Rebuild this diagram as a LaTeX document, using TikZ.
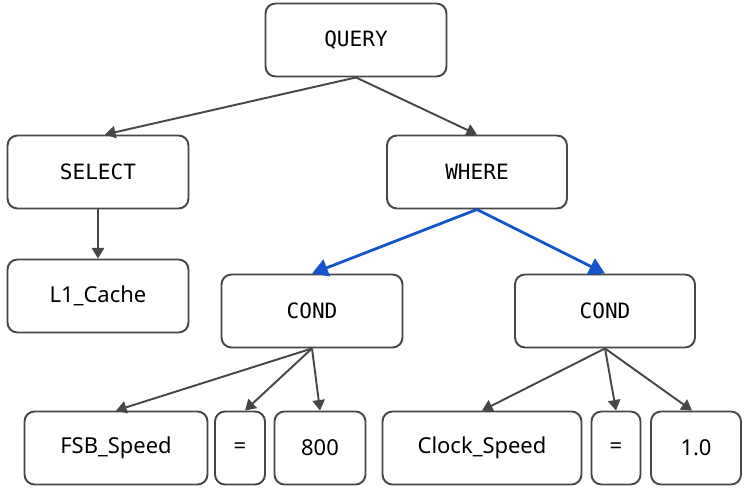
\documentclass[tikz,border=0pt]{standalone}
\usepackage{fontspec}
\setmainfont{Noto Sans}
\setmonofont{DejaVu Sans Mono}
\usetikzlibrary{arrows.meta}
\begin{document}
\begin{tikzpicture}[x=0.02cm,y=-0.02cm,
  box/.style={draw=black!72,line width=1.1pt,rounded corners=0.2cm,fill=white,minimum height=1.46cm,inner sep=0pt,font=\fontsize{12.5}{15}\selectfont},
  mono/.style={box,font=\ttfamily\fontsize{12}{15}\selectfont},
  edge/.style={draw=black!72,line width=1.1pt,-{Triangle[length=6pt,width=7pt]}},
  bedge/.style={draw={rgb,255:red,20;green,85;blue,205},line width=1.6pt,-{Triangle[length=9pt,width=10pt]}}]
\useasboundingbox (0,0) rectangle (747,489);
\node[mono,minimum width=3.62cm] (q) at (356,40) {QUERY};
\node[mono,minimum width=3.62cm] (sel) at (98,172) {SELECT};
\node[mono,minimum width=3.6cm] (wh) at (477,172) {WHERE};
\node[box,minimum width=3.62cm] (l1) at (98,296) {L1\_Cache};
\node[mono,minimum width=3.62cm] (c1) at (312,311) {COND};
\node[mono,minimum width=3.6cm] (c2) at (605,311) {COND};
\node[box,minimum width=3.66cm] (fsb) at (116,448) {FSB\_Speed};
\node[box,minimum width=1.0cm] (e1) at (240,448) {=};
\node[box,minimum width=1.82cm] (v1) at (320,448) {800};
\node[box,minimum width=3.98cm] (clk) at (482,448) {Clock\_Speed};
\node[box,minimum width=0.98cm] (e2) at (616,448) {=};
\node[box,minimum width=1.8cm] (v2) at (696,448) {1.0};
\draw[edge] (q.south) -- ([xshift=0.14cm]sel.north);
\draw[edge] (q.south) -- (wh.north);
\draw[edge] (sel.south) -- (l1.north);
\draw[bedge] (wh.south) -- (c1.north);
\draw[bedge] (wh.south) -- (c2.north);
\draw[edge] (c1.south) -- (fsb.north);
\draw[edge] (c1.south) -- ([xshift=0.1cm]e1.north);
\draw[edge] (c1.south) -- (v1.north);
\draw[edge] (c2.south) -- (clk.north);
\draw[edge] (c2.south) -- (e2.north);
\draw[edge] (c2.south) -- ([xshift=-0.08cm]v2.north);
\end{tikzpicture}
\end{document}
